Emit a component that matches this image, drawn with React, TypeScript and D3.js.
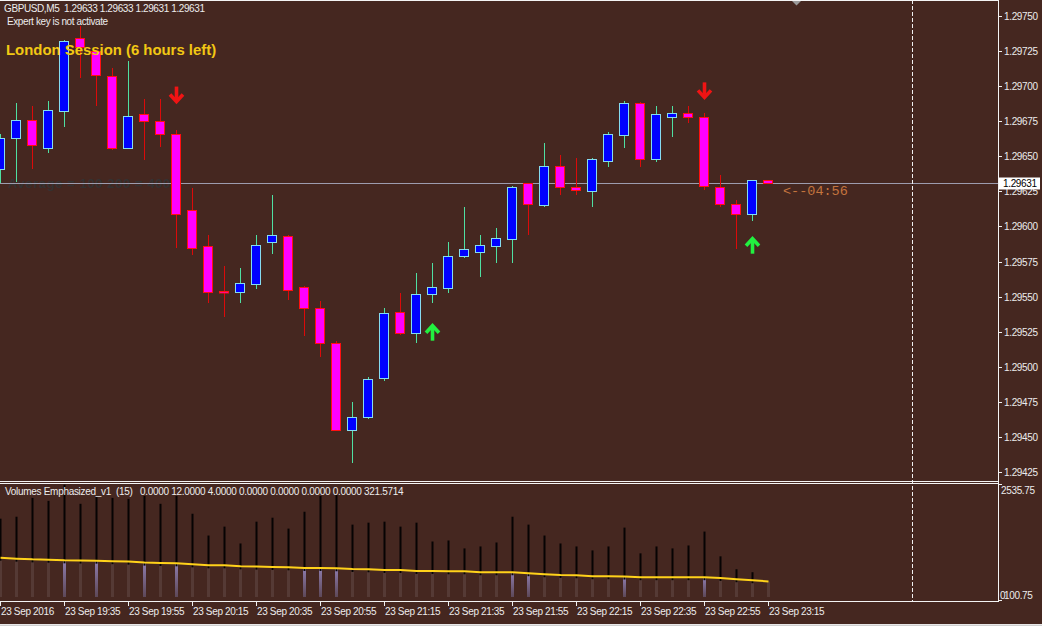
import React from 'react';
import * as d3 from 'd3';

// ---- Data (GBPUSD M5, 23 Sep 2016 19:15 .. 23:15) ----
const opens = [1.29641,1.29663,1.29676,1.29656,1.29682,1.29734,1.29725,1.29707,1.29656,1.29680,
  1.29675,1.29666,1.29612,1.29586,1.29554,1.29553,1.29559,1.29589,1.29593,1.29557,
  1.29542,1.29517,1.29455,1.29464,1.29492,1.29539,1.29524,1.29552,1.29556,1.29579,
  1.29582,1.29586,1.29591,1.29631,1.29615,1.29643,1.29628,1.29625,1.29647,1.29665,
  1.29688,1.29648,1.29678,1.29681,1.29678,1.29628,1.29616,1.29609,1.29633];
const highs = [1.29666,1.29688,1.29686,1.29690,1.29733,1.29743,1.29726,1.29713,1.29718,1.29691,
  1.29691,1.29669,1.29628,1.29594,1.29572,1.29571,1.29594,1.29623,1.29594,1.29558,
  1.29547,1.29519,1.29475,1.29493,1.29542,1.29553,1.29567,1.29574,1.29589,1.29614,
  1.29594,1.29599,1.29629,1.29631,1.29660,1.29651,1.29649,1.29649,1.29668,1.29690,
  1.29689,1.29686,1.29686,1.29686,1.29681,1.29637,1.29619,1.29633,1.29633];
const lows = [1.29631,1.29632,1.29641,1.29653,1.29671,1.29706,1.29686,1.29655,1.29656,1.29648,
  1.29657,1.29585,1.29580,1.29546,1.29536,1.29546,1.29556,1.29581,1.29548,1.29522,
  1.29507,1.29455,1.29432,1.29463,1.29490,1.29523,1.29517,1.29546,1.29553,1.29578,
  1.29564,1.29574,1.29574,1.29594,1.29614,1.29623,1.29623,1.29614,1.29643,1.29656,
  1.29643,1.29646,1.29664,1.29674,1.29626,1.29614,1.29584,1.29604,1.29631];
const closes = [1.29663,1.29676,1.29658,1.29683,1.29732,1.29728,1.29708,1.29656,1.29679,1.29675,
  1.29666,1.29609,1.29585,1.29553,1.29553,1.29560,1.29587,1.29594,1.29555,1.29542,
  1.29517,1.29455,1.29464,1.29491,1.29538,1.29524,1.29552,1.29557,1.29579,1.29584,
  1.29587,1.29592,1.29628,1.29616,1.29643,1.29628,1.29626,1.29648,1.29666,1.29688,
  1.29648,1.29680,1.29681,1.29678,1.29629,1.29616,1.29609,1.29633,1.29631];

const volumes = [1757,1801,2224,2157,2520,2091,2246,2224,2202,2268,
  2091,2268,1868,1379,1579,1201,1690,1779,1535,1913,
  2268,2291,1624,1668,1690,1579,1668,1245,1268,1090,
  1134,1223,1801,1624,1379,1201,1134,1045,1134,1557,
  979,1134,1090,1156,1468,912,623,556,12];
const volumeMA = [883,861,845,838,823,819,816,805,794,772,
  763,756,734,712,712,689,683,674,667,652,
  652,645,629,623,607,607,585,585,578,578,
  556,556,556,534,512,496,489,467,467,460,
  445,445,445,445,445,429,400,378,349];
const emphasized = [4,6,9,11,19,20,21,32,33,39,44];

const priceTicks = [1.29425,1.29450,1.29475,1.29500,1.29525,1.29550,1.29575,1.29600,1.29625,1.29650,1.29675,1.29700,1.29725,1.29750];
const timeTickIndex = [0,4,8,12,16,20,24,28,32,36,40,44,48];
const timeTickLabels = ['23 Sep 2016','23 Sep 19:35','23 Sep 19:55','23 Sep 20:15','23 Sep 20:35','23 Sep 20:55','23 Sep 21:15','23 Sep 21:35','23 Sep 21:55','23 Sep 22:15','23 Sep 22:35','23 Sep 22:55','23 Sep 23:15'];

const sellArrows = [{ index: 11, price: 1.29694 }, { index: 44, price: 1.29697 }];
const buyArrows = [{ index: 27, price: 1.29525 }, { index: 47, price: 1.29587 }];

const currentPrice = 1.29631;
const volMax = 2535.75;
const headerText = 'GBPUSD,M5  1.29633 1.29633 1.29631 1.29631';
const expertText = 'Expert key is not activate';
const sessionText = 'London Session (6 hours left)';
const timerText = '<--04:56';
const rangeText = 'Average = 100 200 = 4000';
const volHeader = 'Volumes Emphasized_v1  (15)   0.0000 12.0000 4.0000 0.0000 0.0000 0.0000 0.0000 321.5714';

const BG = '#452720';
const FONT = '"Liberation Sans", Arial, sans-serif';

export default function App() {
  const W = 1042, H = 626;
  const axisX = 998.5;
  const x = d3.scaleLinear().domain([0, 48]).range([0.5, 768.5]);
  const y = d3.scaleLinear().domain([1.29425, 1.29750]).range([472.5, 16.5]);
  const yv = d3.scaleLinear().domain([0, volMax]).range([597, 484]);
  const crisp = (v: number) => Math.round(v - 0.5) + 0.5;

  const maLine = d3.line<number>().x((_, i) => x(i)).y(d => yv(d))(volumeMA) || '';

  const smallText = { fontFamily: FONT, fontSize: 10, fill: '#ececec', letterSpacing: -0.35, whiteSpace: 'pre' as const };

  return (
    <svg width={W} height={H} style={{ position: 'absolute', left: 0, top: 0, display: 'block' }}
      xmlns="http://www.w3.org/2000/svg">
      <defs>
        <linearGradient id="emph" x1="0" y1="0" x2="0" y2="1">
          <stop offset="0" stopColor="#8d7cae" />
          <stop offset="1" stopColor="#5d4858" />
        </linearGradient>
        <clipPath id="mainClip"><rect x={0} y={1} width={998} height={480} /></clipPath>
        <clipPath id="volClip"><rect x={0} y={484} width={998} height={117} /></clipPath>
      </defs>
      <rect x={0} y={0} width={W} height={H} fill={BG} />

      {/* dark overlay text under candles */}
      <text x={8} y={188} style={{ fontFamily: FONT, fontSize: 13, fontWeight: 'bold', fill: '#343232', letterSpacing: 0.6 }}>{rangeText}</text>

      {/* current price line */}
      <line x1={0} x2={998} y1={crisp(y(currentPrice))} y2={crisp(y(currentPrice))} stroke="#9d9cae" strokeWidth={1} />

      {/* candles */}
      <g clipPath="url(#mainClip)">
        {opens.map((o, i) => {
          const c = closes[i];
          const bull = c > o;
          const cx = x(i);
          const top = crisp(y(Math.max(o, c)));
          const bot = crisp(y(Math.min(o, c)));
          const h = Math.max(bot - top, 1.5);
          return (
            <g key={i}>
              <line x1={cx} x2={cx} y1={Math.round(y(highs[i]))} y2={Math.round(y(lows[i]))}
                stroke={bull ? '#4fe0a2' : '#dc0a0a'} strokeWidth={1} />
              <rect x={cx - 5} y={top} width={9} height={h}
                fill={bull ? '#0000ff' : '#ff00ff'} stroke={bull ? '#86dcf0' : '#ff1010'} strokeWidth={1} />
            </g>
          );
        })}
        {sellArrows.map((a, k) => {
          const cx = x(a.index), cy = y(a.price);
          return (
            <g key={'s' + k} stroke="#f01414" strokeWidth={3.6} fill="none">
              <path d={`M${cx},${cy - 8.5} L${cx},${cy + 6}`} />
              <path d={`M${cx - 6.5},${cy - 0.5} L${cx},${cy + 6.5} L${cx + 6.5},${cy - 0.5}`} strokeLinejoin="miter" />
            </g>
          );
        })}
        {buyArrows.map((a, k) => {
          const cx = x(a.index), cy = y(a.price);
          return (
            <g key={'b' + k} stroke="#22f040" strokeWidth={3.6} fill="none">
              <path d={`M${cx},${cy + 8.5} L${cx},${cy - 6}`} />
              <path d={`M${cx - 6.5},${cy + 0.5} L${cx},${cy - 6.5} L${cx + 6.5},${cy + 0.5}`} strokeLinejoin="miter" />
            </g>
          );
        })}
      </g>

      {/* top texts */}
      <text x={4} y={12} style={{ ...smallText, letterSpacing: -0.4 }}>{headerText}</text>
      <text x={7} y={25} style={{ ...smallText, letterSpacing: -0.4 }}>{expertText}</text>
      <text x={6} y={55} style={{ fontFamily: FONT, fontSize: 14.9, fontWeight: 'bold', fill: '#f2c814' }}>{sessionText}</text>
      <text x={783} y={195} style={{ fontFamily: '"Liberation Mono", monospace', fontSize: 13.5, fill: '#c4743e', whiteSpace: 'pre' }}>{timerText}</text>

      {/* shift marker */}
      <path d="M791,0 L802,0 L796.5,5.5 Z" fill="#9a9a9a" />

      {/* volume panel */}
      <g clipPath="url(#volClip)">
        {volumes.map((v, i) => {
          const cx = x(i);
          const ma = volumeMA[i];
          const emph = emphasized.includes(i);
          return (
            <g key={'v' + i}>
              <rect x={cx - 1.5} y={yv(ma)} width={3} height={yv(0) - yv(ma)} fill={emph ? 'url(#emph)' : '#553a35'} />
              {v > ma && <rect x={cx - 1} y={yv(v)} width={2} height={yv(ma) - yv(v) + 3} fill="#060303" />}
            </g>
          );
        })}
        <path d={maLine} fill="none" stroke="#ffd21a" strokeWidth={2} />
      </g>
      <text x={5} y={495} style={{ ...smallText, letterSpacing: -0.3 }}>{volHeader}</text>

      {/* dashed vertical */}
      <line x1={912.5} x2={912.5} y1={0} y2={602} stroke="#f0f0f0" strokeWidth={1} strokeDasharray="4,2" />

      {/* frames */}
      <line x1={0} x2={999} y1={0.5} y2={0.5} stroke="#f4f4f4" />
      <line x1={0} x2={999} y1={481.5} y2={481.5} stroke="#f4f4f4" />
      <line x1={0} x2={999} y1={483.5} y2={483.5} stroke="#f4f4f4" />
      <line x1={0} x2={999} y1={601.5} y2={601.5} stroke="#f4f4f4" />
      <line x1={axisX} x2={axisX} y1={0} y2={602} stroke="#f4f4f4" />
      <line x1={0} x2={W} y1={624.5} y2={624.5} stroke="#e8e8e8" />
      <rect x={0} y={625} width={W} height={1} fill="#cfcfcf" />

      {/* price axis */}
      {priceTicks.map((p, k) => (
        <g key={'p' + k}>
          <line x1={998} x2={1002} y1={crisp(y(p))} y2={crisp(y(p))} stroke="#f0f0f0" />
          <text x={1004} y={y(p) + 3.5} style={smallText}>{p.toFixed(5)}</text>
        </g>
      ))}
      <rect x={999} y={crisp(y(currentPrice)) - 6} width={41} height={12} fill="#ffffff" />
      <text x={1003} y={crisp(y(currentPrice)) + 3.5} style={{ ...smallText, fill: '#000000' }}>{currentPrice.toFixed(5)}</text>

      {/* volume axis */}
      <line x1={998} x2={1002} y1={484.5} y2={484.5} stroke="#f0f0f0" />
      <line x1={998} x2={1002} y1={600.5} y2={600.5} stroke="#f0f0f0" />
      <text x={1001} y={494} style={smallText}>{volMax.toFixed(2)}</text>
      <text x={1000} y={599} style={smallText}>0</text>
      <text x={1004} y={599} style={smallText}>100.75</text>

      {/* time axis */}
      {timeTickIndex.map((ti, k) => (
        <g key={'t' + k}>
          <line x1={x(ti)} x2={x(ti)} y1={602} y2={606} stroke="#f0f0f0" />
          <text x={x(ti) + 0.5} y={615} style={smallText}>{timeTickLabels[k]}</text>
        </g>
      ))}
    </svg>
  );
}
